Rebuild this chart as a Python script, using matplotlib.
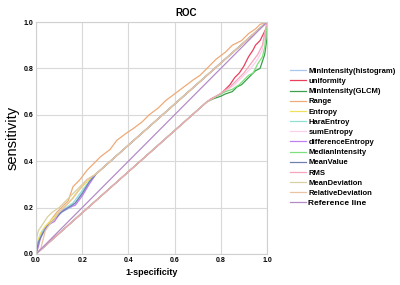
import matplotlib
matplotlib.use("Agg")
import matplotlib.pyplot as plt

# ---- data ----
labels = ["MinIntensity(histogram)", "uniformity", "MinIntensity(GLCM)", "Range",
          "Entropy", "HaraEntroy", "sumEntropy", "differenceEntropy",
          "MedianIntensity", "MeanValue", "RMS", "MeanDeviation",
          "RelativeDeviation", "Reference line"]
colors = ["#a9c8f0", "#e8405c", "#3aa04a", "#eeaa78", "#f0e060", "#90e0d4",
          "#fcd0ec", "#c080f0", "#7ce07c", "#7080b0", "#f8a4bc", "#d8d0a0",
          "#e8c4a4", "#b48cc8"]

minhist_x = [0, 0.01, 0.02, 0.03, 0.05, 0.07, 0.09, 0.11, 0.13, 0.15, 0.17, 0.19, 0.21, 0.23, 0.26, 1.0]
minhist_y = [0, 0.04, 0.08, 0.10, 0.12, 0.14, 0.16, 0.18, 0.19, 0.20, 0.22, 0.25, 0.28, 0.31, 0.345, 1.0]

unif_x = [0, 0.74, 0.76, 0.78, 0.80, 0.82, 0.84, 0.86, 0.88, 0.90, 0.92, 0.94, 0.95, 0.97, 0.98, 0.99, 1.0, 1.0]
unif_y = [0, 0.656, 0.67, 0.68, 0.69, 0.71, 0.73, 0.76, 0.78, 0.81, 0.85, 0.88, 0.90, 0.92, 0.94, 0.96, 0.98, 1.0]

glcm_x = [0, 0.74, 0.77, 0.80, 0.82, 0.85, 0.87, 0.89, 0.91, 0.93, 0.95, 0.97, 0.98, 0.99, 1.0, 1.0]
glcm_y = [0, 0.656, 0.67, 0.68, 0.69, 0.70, 0.72, 0.73, 0.75, 0.77, 0.79, 0.80, 0.83, 0.86, 0.93, 1.0]

range_x = [0, 0.01, 0.03, 0.06, 0.09, 0.11, 0.14, 0.16, 0.19, 0.22, 0.25, 0.28, 0.32, 0.35, 0.39,
           0.42, 0.46, 0.49, 0.53, 0.56, 0.60, 0.64, 0.68, 0.71, 0.75, 0.78, 0.82, 0.85, 0.89,
           0.92, 0.95, 0.97, 1.0]
range_y = [0, 0.05, 0.10, 0.14, 0.18, 0.20, 0.23, 0.29, 0.32, 0.36, 0.39, 0.42, 0.45, 0.49, 0.52,
           0.54, 0.57, 0.60, 0.63, 0.66, 0.69, 0.72, 0.75, 0.77, 0.81, 0.84, 0.87, 0.90, 0.92,
           0.95, 0.97, 0.99, 1.0]

entropy_x = [0, 0.005, 0.02, 0.04, 0.06, 0.08, 0.10, 0.12, 0.15, 0.18, 0.21, 0.24, 0.26, 1.0]
entropy_y = [0, 0.05, 0.09, 0.12, 0.14, 0.16, 0.18, 0.20, 0.23, 0.27, 0.30, 0.33, 0.345, 1.0]

hara_x = [0, 0.01, 0.03, 0.05, 0.08, 0.10, 0.13, 0.16, 0.19, 0.22, 0.26, 1.0]
hara_y = [0, 0.05, 0.10, 0.12, 0.15, 0.18, 0.20, 0.22, 0.26, 0.30, 0.345, 1.0]

sum_x = [0, 0.74, 0.78, 0.82, 0.86, 0.90, 0.93, 0.96, 0.98, 1.0]
sum_y = [0, 0.656, 0.68, 0.70, 0.73, 0.77, 0.80, 0.84, 0.88, 1.0]

diff_x = [0, 0.01, 0.02, 0.04, 0.06, 0.08, 0.10, 0.12, 0.14, 0.17, 0.20, 0.23, 0.26, 1.0]
diff_y = [0, 0.03, 0.07, 0.11, 0.13, 0.14, 0.17, 0.19, 0.20, 0.21, 0.25, 0.30, 0.345, 1.0]

median_x = [0, 0.74, 0.78, 0.82, 0.85, 0.88, 0.92, 0.94, 0.96, 0.98, 0.99, 1.0]
median_y = [0, 0.656, 0.68, 0.70, 0.71, 0.73, 0.77, 0.78, 0.82, 0.85, 0.89, 1.0]

meanv_x = [0, 0.01, 0.03, 0.05, 0.07, 0.09, 0.11, 0.14, 0.17, 0.20, 0.23, 0.26, 1.0]
meanv_y = [0, 0.05, 0.09, 0.12, 0.14, 0.16, 0.18, 0.20, 0.22, 0.26, 0.31, 0.345, 1.0]

rms_x = [0, 0.74, 0.78, 0.81, 0.84, 0.87, 0.90, 0.93, 0.96, 0.98, 1.0]
rms_y = [0, 0.656, 0.68, 0.70, 0.72, 0.75, 0.78, 0.82, 0.86, 0.90, 1.0]

meandev_x = [0, 0.003, 0.01, 0.03, 0.05, 0.07, 0.10, 0.13, 0.16, 0.19, 0.22, 0.26, 1.0]
meandev_y = [0, 0.07, 0.10, 0.13, 0.16, 0.18, 0.20, 0.23, 0.26, 0.29, 0.32, 0.345, 1.0]

reldev_x = [0, 0.02, 0.03, 0.04, 0.06, 0.08, 0.10, 0.13, 0.16, 0.19, 0.22, 0.26, 1.0]
reldev_y = [0, 0.02, 0.06, 0.10, 0.13, 0.15, 0.18, 0.21, 0.24, 0.28, 0.32, 0.345, 1.0]

ref_x = [0, 1]
ref_y = [0, 1]

series_x = [minhist_x, unif_x, glcm_x, range_x, entropy_x, hara_x, sum_x, diff_x,
            median_x, meanv_x, rms_x, meandev_x, reldev_x, ref_x]
series_y = [minhist_y, unif_y, glcm_y, range_y, entropy_y, hara_y, sum_y, diff_y,
            median_y, meanv_y, rms_y, meandev_y, reldev_y, ref_y]

ticks = [0.0, 0.2, 0.4, 0.6, 0.8, 1.0]
tick_labels = ["0.0", "0.2", "0.4", "0.6", "0.8", "1.0"]

# ---- figure ----
plt.rcParams['font.family'] = ['Liberation Sans', 'DejaVu Sans']
fig = plt.figure(figsize=(4.0, 2.85), dpi=100)
ax = fig.add_axes([0.09, 0.1088, 0.5775, 0.814])

for xs, ys, c, lab in zip(series_x, series_y, colors, labels):
    ax.plot(xs, ys, color=c, lw=0.9, label=lab)

ax.set_xlim(0, 1)
ax.set_ylim(0, 1)
ax.set_xticks(ticks)
ax.set_yticks(ticks)
ax.set_xticklabels(tick_labels, fontsize=5, fontweight='bold')
ax.set_yticklabels(tick_labels, fontsize=5, fontweight='bold')
ax.tick_params(length=0, pad=2)
ax.grid(True, color='#d9d9d9', lw=0.8)
ax.set_axisbelow(True)
for s in ax.spines.values():
    s.set_color('#d0d0d0')
    s.set_linewidth(0.8)

ax.set_xlabel("1-specificity", fontsize=6.5, fontweight='bold', labelpad=3)
ax.set_ylabel("sensitivity", fontsize=10.5, labelpad=3)
fig.text(186 / 400, 1 - 13 / 285, "ROC", fontsize=7, fontweight='bold', ha='center', va='center')

leg = ax.legend(loc='upper left', bbox_to_anchor=(1.087, 0.817), frameon=False,
                prop={'weight': 'bold', 'size': 5.5},
                handlelength=2.1, handletextpad=0.3, labelspacing=0.37,
                borderaxespad=0)
for t in leg.get_texts():
    if t.get_text() == "Reference line":
        t.set_fontsize(6)

fig.savefig("out.png", dpi=100)
